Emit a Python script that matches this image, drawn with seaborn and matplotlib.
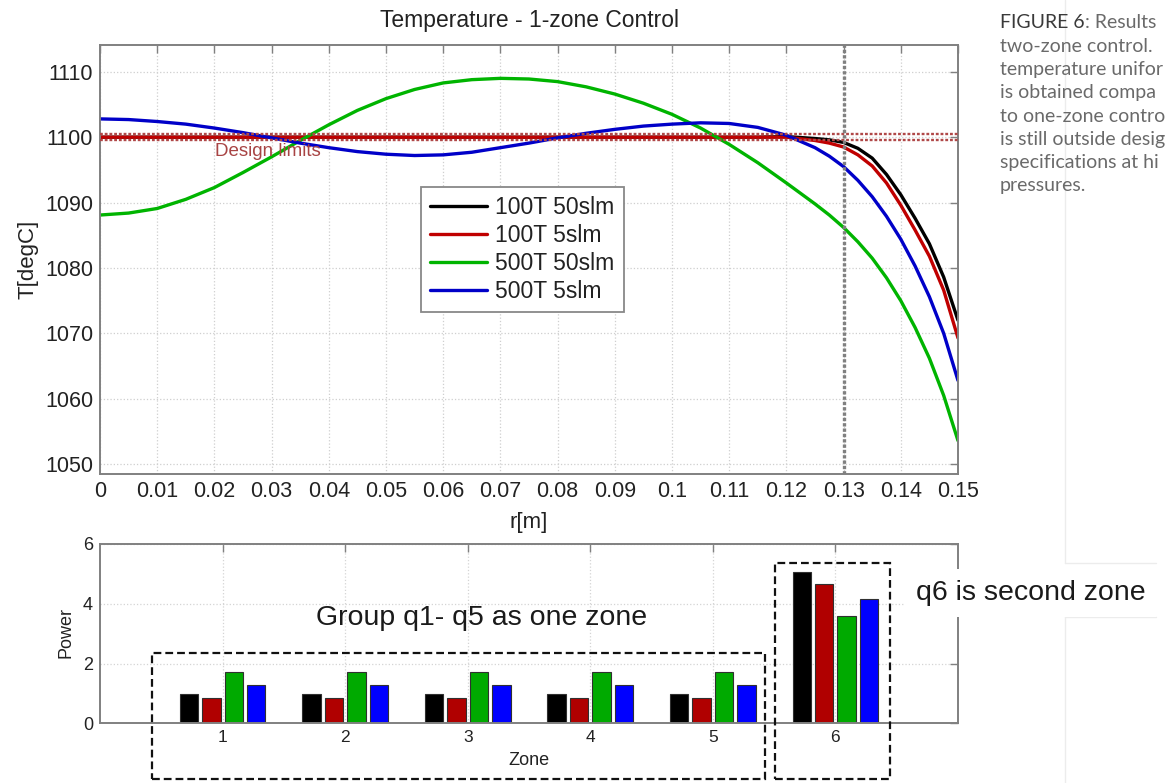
import matplotlib
matplotlib.use("Agg")
import matplotlib.pyplot as plt
from matplotlib.patches import Rectangle
from matplotlib.lines import Line2D
import pandas as pd
import seaborn as sns

# ---------------------------------------------------------------- data
series = ["100T 50slm", "100T 5slm", "500T 50slm", "500T 5slm"]
line_colors = ["#000000", "#c00000", "#00b400", "#0000c8"]
bar_colors = ["#000000", "#b00000", "#00aa00", "#0000ff"]

r_m = [0.000, 0.005, 0.010, 0.015, 0.020, 0.025, 0.030, 0.035, 0.040,
       0.045, 0.050, 0.055, 0.060, 0.065, 0.070, 0.075, 0.080, 0.085,
       0.090, 0.095, 0.100, 0.105, 0.110, 0.115, 0.120, 0.125, 0.1275,
       0.130, 0.1325, 0.135, 0.1375, 0.140, 0.1425, 0.145, 0.1475, 0.150]

T_100T_50slm = [1100.0, 1100.0, 1100.0, 1100.0, 1100.0, 1100.0, 1100.0,
                1100.0, 1100.0, 1100.0, 1100.0, 1100.0, 1100.0, 1100.0,
                1100.0, 1100.0, 1100.0, 1100.0, 1100.0, 1100.0, 1100.0,
                1100.0, 1100.0, 1100.0, 1100.1, 1099.8, 1099.6, 1099.2,
                1098.3, 1096.8, 1094.3, 1091.2, 1087.6, 1083.7, 1078.6,
                1072.0]
T_100T_5slm = [1100.0, 1100.0, 1100.0, 1100.0, 1100.0, 1100.0, 1100.0,
               1100.0, 1100.0, 1100.0, 1100.0, 1100.0, 1100.0, 1100.0,
               1100.0, 1100.0, 1100.0, 1100.0, 1100.0, 1100.0, 1100.0,
               1100.0, 1100.0, 1100.0, 1100.0, 1099.5, 1099.1, 1098.5,
               1097.3, 1095.6, 1093.0, 1089.6, 1085.8, 1081.8, 1076.6,
               1069.3]
T_500T_50slm = [1088.1, 1088.4, 1089.1, 1090.5, 1092.3, 1094.6, 1097.0,
                1099.5, 1101.9, 1104.1, 1105.9, 1107.3, 1108.3, 1108.8,
                1109.0, 1108.9, 1108.5, 1107.7, 1106.6, 1105.2, 1103.5,
                1101.4, 1098.9, 1096.1, 1093.0, 1089.8, 1088.1, 1086.2,
                1084.0, 1081.5, 1078.5, 1075.0, 1070.9, 1066.2, 1060.5,
                1053.6]
T_500T_5slm = [1102.8, 1102.7, 1102.4, 1102.0, 1101.4, 1100.7, 1099.9,
               1099.1, 1098.4, 1097.8, 1097.4, 1097.2, 1097.3, 1097.7,
               1098.4, 1099.1, 1099.9, 1100.6, 1101.2, 1101.7, 1102.0,
               1102.2, 1102.1, 1101.5, 1100.3, 1098.4, 1097.1, 1095.5,
               1093.4, 1090.9, 1087.9, 1084.4, 1080.3, 1075.6, 1070.0,
               1062.8]

design_limits = [1099.5, 1100.5]
design_edge_r = 0.13

x_ticks = [0.00, 0.01, 0.02, 0.03, 0.04, 0.05, 0.06, 0.07, 0.08, 0.09,
           0.10, 0.11, 0.12, 0.13, 0.14, 0.15]
x_tick_labels = ["0", "0.01", "0.02", "0.03", "0.04", "0.05", "0.06", "0.07",
                 "0.08", "0.09", "0.1", "0.11", "0.12", "0.13", "0.14", "0.15"]
y_ticks = [1050, 1060, 1070, 1080, 1090, 1100, 1110]

zones = ["1", "2", "3", "4", "5", "6"]
P_100T_50slm = [0.98, 0.98, 0.98, 0.98, 0.98, 5.05]
P_100T_5slm = [0.85, 0.85, 0.85, 0.85, 0.85, 4.65]
P_500T_50slm = [1.70, 1.70, 1.70, 1.70, 1.70, 3.60]
P_500T_5slm = [1.27, 1.27, 1.27, 1.27, 1.27, 4.17]
power_ticks = [0, 2, 4, 6]

caption_lines = ["two-zone control.", "temperature unifor",
                 "is obtained compa", "to one-zone contro",
                 "is still outside desig", "specifications at hi",
                 "pressures."]

# ---------------------------------------------------------------- frames
temps = [T_100T_50slm, T_100T_5slm, T_500T_50slm, T_500T_5slm]
df_T = pd.concat([pd.DataFrame({"r": r_m, "T": t, "series": s})
                  for s, t in zip(series, temps)], ignore_index=True)
powers = [P_100T_50slm, P_100T_5slm, P_500T_50slm, P_500T_5slm]
df_P = pd.concat([pd.DataFrame({"zone": zones, "power": p, "series": s})
                  for s, p in zip(series, powers)], ignore_index=True)

# ---------------------------------------------------------------- style
sns.set_theme(style="white")
plt.rcParams["font.family"] = ["Liberation Sans", "DejaVu Sans"]

W, H = 1170, 783
fig = plt.figure(figsize=(W / 100, H / 100), dpi=100)


def fx(px):
    return px / W


def fy(py):
    return 1 - py / H


spine_col = "#808080"
text_col = "#222222"

ax = fig.add_axes([fx(100), fy(474), fx(958) - fx(100), fy(45) - fy(474)])
axb = fig.add_axes([fx(100), fy(723.3), fx(958) - fx(100), fy(544) - fy(723.3)])

# ---------------------------------------------------------------- temperature profile
sns.lineplot(data=df_T, x="r", y="T", hue="series", hue_order=series,
             palette=dict(zip(series, line_colors)), linewidth=2.4,
             estimator=None, sort=False, ax=ax)
for ln in ax.get_lines():
    ln.set_solid_joinstyle("round")

for lim in design_limits:
    ax.axhline(lim, color="#b04848", lw=1.7, ls=(0, (1.2, 0.8)), zorder=3)
ax.axvline(design_edge_r, color="#808080", lw=2.4, ls=(0, (1.0, 0.6)), zorder=3)
ax.text(0.0201, 1097.8, "Design limits", color="#a84444", fontsize=13.5,
        ha="left", va="center", zorder=4)

ax.set_xlim(0, 0.15)
ax.set_ylim(1048.5, 1114.1)
ax.set_xticks(x_ticks)
ax.set_xticklabels(x_tick_labels)
ax.set_yticks(y_ticks)
ax.grid(True, ls=":", color="#cfcfcf", lw=0.9)
ax.tick_params(direction="in", length=6, width=1, colors=spine_col,
               labelcolor=text_col, top=True, right=True, labelsize=15.5, pad=5)
for s in ax.spines.values():
    s.set_color(spine_col)
    s.set_linewidth(1.4)
ax.set_title("Temperature - 1-zone Control", fontsize=16.5, color=text_col, pad=13)
ax.set_xlabel("r[m]", fontsize=16, color=text_col)
ax.set_ylabel("T[degC]", fontsize=16, color=text_col)
ax.xaxis.set_label_coords(0.5, -0.088)
ax.yaxis.set_label_coords(-0.072, 0.5)

handles, labels = ax.get_legend_handles_labels()
leg = ax.legend(handles, labels, loc="center", bbox_to_anchor=(0.492, 0.523),
                fontsize=16.5, frameon=True, fancybox=False, framealpha=1,
                edgecolor="#888888", handlelength=2.5, handletextpad=0.35,
                labelspacing=0.22, borderpad=0.4)
leg.get_frame().set_linewidth(1.3)
for t in leg.get_texts():
    t.set_color(text_col)

# ---------------------------------------------------------------- zone powers
sns.barplot(data=df_P, x="zone", y="power", hue="series", hue_order=series,
            order=zones, palette=dict(zip(series, bar_colors)), width=0.733,
            gap=0.18, saturation=1, errorbar=None, edgecolor="#303030",
            linewidth=0.8, legend=False, ax=axb)
axb.set_xlim(-1, 6)
axb.set_ylim(0, 6)
axb.set_yticks(power_ticks)
axb.set_xticks(range(len(zones)))
axb.set_xticklabels(zones)
axb.grid(True, ls=":", color="#d4d4d4", lw=0.9)
axb.set_axisbelow(True)
axb.tick_params(direction="in", length=6, width=1, colors=spine_col,
                labelcolor=text_col, top=True, right=True, pad=5)
axb.tick_params(axis="y", labelsize=13)
axb.tick_params(axis="x", labelsize=12.5)
for s in axb.spines.values():
    s.set_color(spine_col)
    s.set_linewidth(1.4)
axb.set_xlabel("Zone", fontsize=13, color=text_col, labelpad=5)
axb.set_ylabel("Power", fontsize=13, color=text_col)
axb.yaxis.set_label_coords(-0.03, 0.504)

# grouping frames around the zones
dash = (0, (3.5, 1.8))
for x0, y0, x1, y1 in [(152, 653, 765, 779), (775, 563, 890, 779)]:
    fig.add_artist(Rectangle((fx(x0), fy(y1)), fx(x1) - fx(x0), fy(y0) - fy(y1),
                             transform=fig.transFigure, fill=False,
                             edgecolor="#111111", lw=1.6, ls=dash, zorder=2))

fig.text(fx(482), fy(618), "Group q1- q5 as one zone", fontsize=20.5,
         color="#1a1a1a", ha="center", va="center")

# faint page rules to the right
rule = "#ececec"
for xs, ys in [([1065, 1065], [0, 563]), ([1065, 1065], [617, 783]),
               ([1065, 1156], [563, 563]), ([1065, 1156], [617, 617])]:
    fig.add_artist(Line2D([fx(v) for v in xs], [fy(v) for v in ys],
                          transform=fig.transFigure, color=rule, lw=1, zorder=1))

fig.text(fx(916), fy(593), "q6 is second zone", fontsize=20.5, color="#1a1a1a",
         ha="left", va="center", zorder=5,
         bbox=dict(boxstyle="square,pad=0.37", facecolor="white", edgecolor="none"))

# figure caption
cap_font = ["Lato", "DejaVu Sans"]
t1 = fig.text(fx(1000), fy(28.3), "FIGURE 6", fontsize=14, family=cap_font,
              color="#3a3a3a", va="baseline", ha="left")
ax.annotate(": Results", xy=(1, 0), xycoords=t1, fontsize=14, family=cap_font,
            color="#6a6a6a", va="bottom", ha="left", annotation_clip=False)
for i, line in enumerate(caption_lines):
    fig.text(fx(1000), fy(28.3 + 23.3 * (i + 1)), line, fontsize=14,
             family=cap_font, color="#6a6a6a", va="baseline", ha="left")

fig.savefig("out.png", dpi=100)
